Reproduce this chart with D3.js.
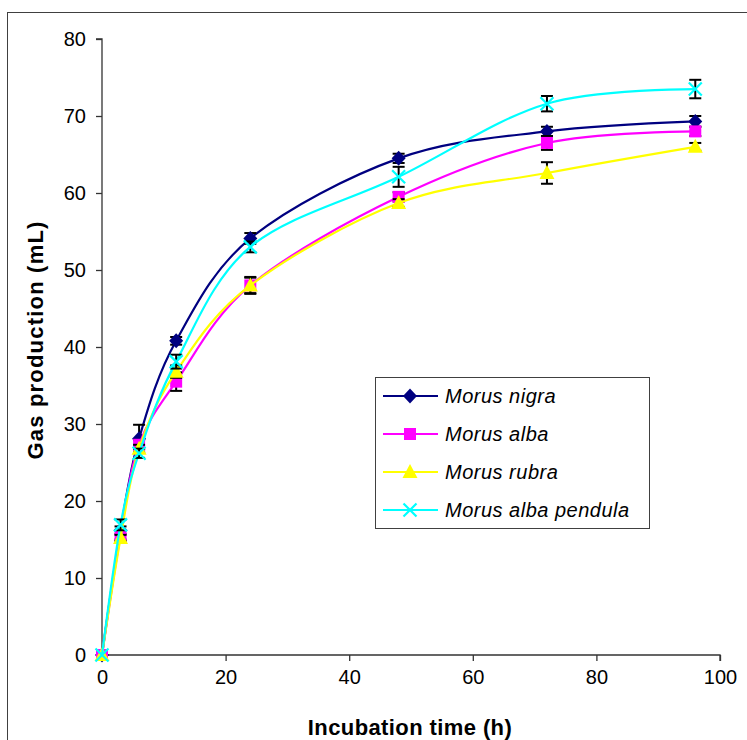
<!DOCTYPE html>
<html lang="en">
<head>
    <meta charset="UTF-8">
    <title>Gas production</title>
    <script src="https://d3js.org/d3.v7.min.js"></script>
    <style>
        body { margin: 0; background: #fff; }
        text { font-family: "Liberation Sans", Arial, sans-serif; }
    </style>
</head>
<body>
<svg width="747" height="740"></svg>

<script>
    // incubation times (h)
    const times = [0, 3, 6, 12, 24, 48, 72, 96];

    const seriesNames = ["Morus nigra", "Morus alba", "Morus rubra", "Morus alba pendula"];
    const seriesColors = ["#000080", "#ff00ff", "#ffff00", "#00ffff"];
    const seriesSymbols = ["diamond", "square", "triangle", "cross"];

    // gas production (mL)
    const nigra   = [0, 16.2, 28.1, 40.8, 54.1, 64.5, 68.0, 69.3];
    const alba    = [0, 15.6, 27.3, 35.5, 48.0, 59.5, 66.5, 68.0];
    const rubra   = [0, 15.2, 26.8, 36.8, 48.0, 58.7, 62.6, 66.0];
    const pendula = [0, 16.9, 26.2, 38.1, 53.0, 62.1, 71.6, 73.5];

    // error bars (+/-)
    const nigraErr   = [0, 0.5, 1.8, 0.5, 0.7, 0.6, 0.6, 0.7];
    const albaErr    = [0, 0.6, 0.6, 1.2, 1.0, 0.6, 0.9, 0.6];
    const rubraErr   = [0, 0.4, 0.5, 0.8, 1.1, 0.5, 1.4, 0.5];
    const pendulaErr = [0, 0.7, 0.6, 0.9, 0.7, 1.3, 1.0, 1.2];

    const xTicks = [0, 20, 40, 60, 80, 100];
    const yTicks = [0, 10, 20, 30, 40, 50, 60, 70, 80];

    const values = [nigra, alba, rubra, pendula];
    const errors = [nigraErr, albaErr, rubraErr, pendulaErr];

    const series = seriesNames.map((name, i) => ({
        name: name,
        color: seriesColors[i],
        symbol: seriesSymbols[i],
        points: times.map((t, j) => ({t: t, v: values[i][j], e: errors[i][j]}))
    }));

    const svg = d3.select("svg");

    // outer chart frame
    svg.append("rect")
        .attr("x", 7.5).attr("y", 12.5)
        .attr("width", 760).attr("height", 760)
        .attr("fill", "none")
        .attr("stroke", "#404040");

    const x = d3.scaleLinear().domain([0, 100]).range([102, 720]);
    const y = d3.scaleLinear().domain([0, 80]).range([655, 39]);

    const xAxis = svg.append("g")
        .attr("transform", "translate(0,655)")
        .call(d3.axisBottom(x).tickValues(xTicks).tickSize(6).tickPadding(9));
    const yAxis = svg.append("g")
        .attr("transform", "translate(102,0)")
        .call(d3.axisLeft(y).tickValues(yTicks).tickSize(6).tickPadding(10));

    [xAxis, yAxis].forEach(g => {
        g.select(".domain").attr("stroke", "#333").attr("stroke-width", 1.3);
        g.selectAll(".tick line").attr("stroke", "#333").attr("stroke-width", 1.3);
        g.selectAll("text")
            .attr("fill", "#000")
            .style("font-family", "'Liberation Sans', Arial, sans-serif")
            .style("font-size", "20px");
    });
    // axisBottom/Left draw the outer tick at the end of the domain; keep the plain path
    xAxis.select(".domain").attr("d", "M102,0H720V6");
    yAxis.select(".domain").attr("d", "M-6,39H0V655");

    svg.append("text")
        .attr("x", 410).attr("y", 735)
        .attr("text-anchor", "middle")
        .style("font-size", "22px")
        .style("font-weight", "bold")
        .style("letter-spacing", "0.4px")
        .text("Incubation time (h)");

    svg.append("text")
        .attr("transform", "translate(43,340) rotate(-90)")
        .attr("text-anchor", "middle")
        .style("font-size", "22px")
        .style("font-weight", "bold")
        .style("letter-spacing", "1.2px")
        .text("Gas production (mL)");

    const symbolPath = {
        diamond: "M0,-7.5L7,0L0,7.5L-7,0Z",
        square: "M-6,-6H6V6H-6Z",
        triangle: "M0,-8L7.5,6H-7.5Z"
    };

    function drawMarker(g, s) {
        if (s.symbol === "cross") {
            g.append("path")
                .attr("d", "M-6.5,-6.5L6.5,6.5M-6.5,6.5L6.5,-6.5")
                .attr("stroke", s.color)
                .attr("stroke-width", 2.2)
                .attr("fill", "none");
        } else {
            g.append("path")
                .attr("d", symbolPath[s.symbol])
                .attr("fill", s.color);
        }
    }

    const line = d3.line()
        .x(d => x(d.t))
        .y(d => y(d.v))
        .curve(d3.curveCardinal.tension(0));

    series.forEach(s => {
        const g = svg.append("g");

        g.append("path")
            .datum(s.points)
            .attr("d", line)
            .attr("fill", "none")
            .attr("stroke", s.color)
            .attr("stroke-width", 2.2);

        const err = g.selectAll(".err")
            .data(s.points.filter(d => d.e > 0))
            .enter().append("g")
            .attr("stroke", "#000")
            .attr("stroke-width", 2);
        err.append("line")
            .attr("x1", d => x(d.t)).attr("x2", d => x(d.t))
            .attr("y1", d => y(d.v - d.e)).attr("y2", d => y(d.v + d.e));
        err.append("line")
            .attr("x1", d => x(d.t) - 6).attr("x2", d => x(d.t) + 6)
            .attr("y1", d => y(d.v + d.e)).attr("y2", d => y(d.v + d.e));
        err.append("line")
            .attr("x1", d => x(d.t) - 6).attr("x2", d => x(d.t) + 6)
            .attr("y1", d => y(d.v - d.e)).attr("y2", d => y(d.v - d.e));

        g.selectAll(".mark")
            .data(s.points)
            .enter().append("g")
            .attr("transform", d => `translate(${x(d.t)},${y(d.v)})`)
            .each(function() { drawMarker(d3.select(this), s); });
    });

    // legend
    const legend = svg.append("g").attr("transform", "translate(375,377)");
    legend.append("rect")
        .attr("x", 0.5).attr("y", 0.5)
        .attr("width", 274).attr("height", 151)
        .attr("fill", "#fff")
        .attr("stroke", "#404040");

    series.forEach((s, i) => {
        const row = legend.append("g").attr("transform", `translate(0,${19 + i * 38})`);
        row.append("line")
            .attr("x1", 8).attr("x2", 63)
            .attr("stroke", s.color)
            .attr("stroke-width", 2.2);
        drawMarker(row.append("g").attr("transform", "translate(35,0)"), s);
        row.append("text")
            .attr("x", 70).attr("y", 7)
            .style("font-size", "20px")
            .style("font-style", "italic")
            .style("letter-spacing", "0.5px")
            .text(s.name);
    });
</script>
</body>
</html>
